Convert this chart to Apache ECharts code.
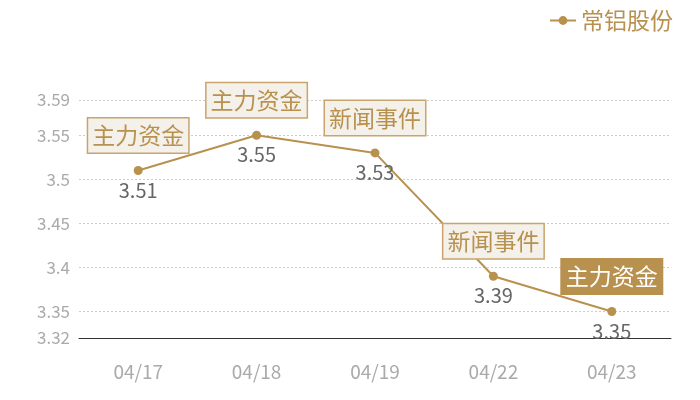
<!DOCTYPE html>
<html>
<head>
<meta charset="utf-8">
<script src="https://cdn.jsdelivr.net/npm/echarts@6/dist/echarts.min.js"></script>
<style>
  html, body { margin: 0; padding: 0; background: #fff; }
  #main { width: 700px; height: 400px; }
</style>
</head>
<body>
<div id="main"></div>
<script>
  const days = ["04/17", "04/18", "04/19", "04/22", "04/23"];
  const prices = [3.51, 3.55, 3.53, 3.39, 3.35];
  const events = ["主力资金", "主力资金", "新闻事件", "新闻事件", "主力资金"];
  const highlight = [false, false, false, false, true]; // 最后一个是实心的

  const gold = "#b8914f";
  const font = "Noto Sans CJK SC";

  let chart = echarts.init(document.getElementById("main"));

  //事件标注
  let marks = [];
  for (let i = 0; i < days.length; i++) {
    let item = {
      coord: [i, prices[i]],
      value: events[i],
      name: events[i]
    };
    if (highlight[i]) {
      item.label = {
        backgroundColor: gold,
        borderColor: gold,
        color: "#fff"
      };
    }
    marks.push(item);
  }

  let option = {
    animation: false,
    textStyle: { fontFamily: font },
    legend: {
      right: 22,
      top: 4,
      itemWidth: 26,
      itemHeight: 11,
      itemGap: 6,
      textStyle: { color: gold, fontSize: 23, fontFamily: font },
      data: ["常铝股份"]
    },
    grid: {
      left: 79,
      right: 29,
      top: 100,
      bottom: 62
    },
    xAxis: {
      type: "category",
      data: days,
      axisLine: { lineStyle: { color: "#333", width: 1 } },
      axisTick: { show: false },
      axisLabel: {
        color: "#aaa",
        fontSize: 19,
        margin: 24,
        fontFamily: font
      }
    },
    yAxis: {
      type: "value",
      min: 3.32,
      max: 3.59,
      splitNumber: 5,
      axisLine: { show: false },
      axisTick: { show: false },
      axisLabel: {
        color: "#aaa",
        fontSize: 17,
        margin: 9,
        fontFamily: font
      },
      splitLine: {
        lineStyle: { color: "#ccc", type: [2, 2], width: 1 }
      }
    },
    series: [{
      name: "常铝股份",
      type: "line",
      data: prices,
      symbol: "circle",
      symbolSize: 9,
      itemStyle: { color: gold },
      lineStyle: { color: gold, width: 2 },
      label: {
        show: true,
        position: "bottom",
        distance: 5,
        color: "#666",
        fontSize: 20,
        fontFamily: font
      },
      markPoint: {
        symbol: "circle",
        symbolSize: 1,
        itemStyle: { color: "transparent" },
        label: {
          show: true,
          position: "inside",
          offset: [0, -35],
          formatter: "{b}",
          fontSize: 23,
          lineHeight: 30,
          color: gold,
          fontFamily: font,
          backgroundColor: "#f4f0ea",
          borderColor: "#c9a46c",
          borderWidth: 1.5,
          padding: [2, 4, 2, 4]
        },
        data: marks
      }
    }]
  };
  chart.setOption(option);
</script>
</body>
</html>
